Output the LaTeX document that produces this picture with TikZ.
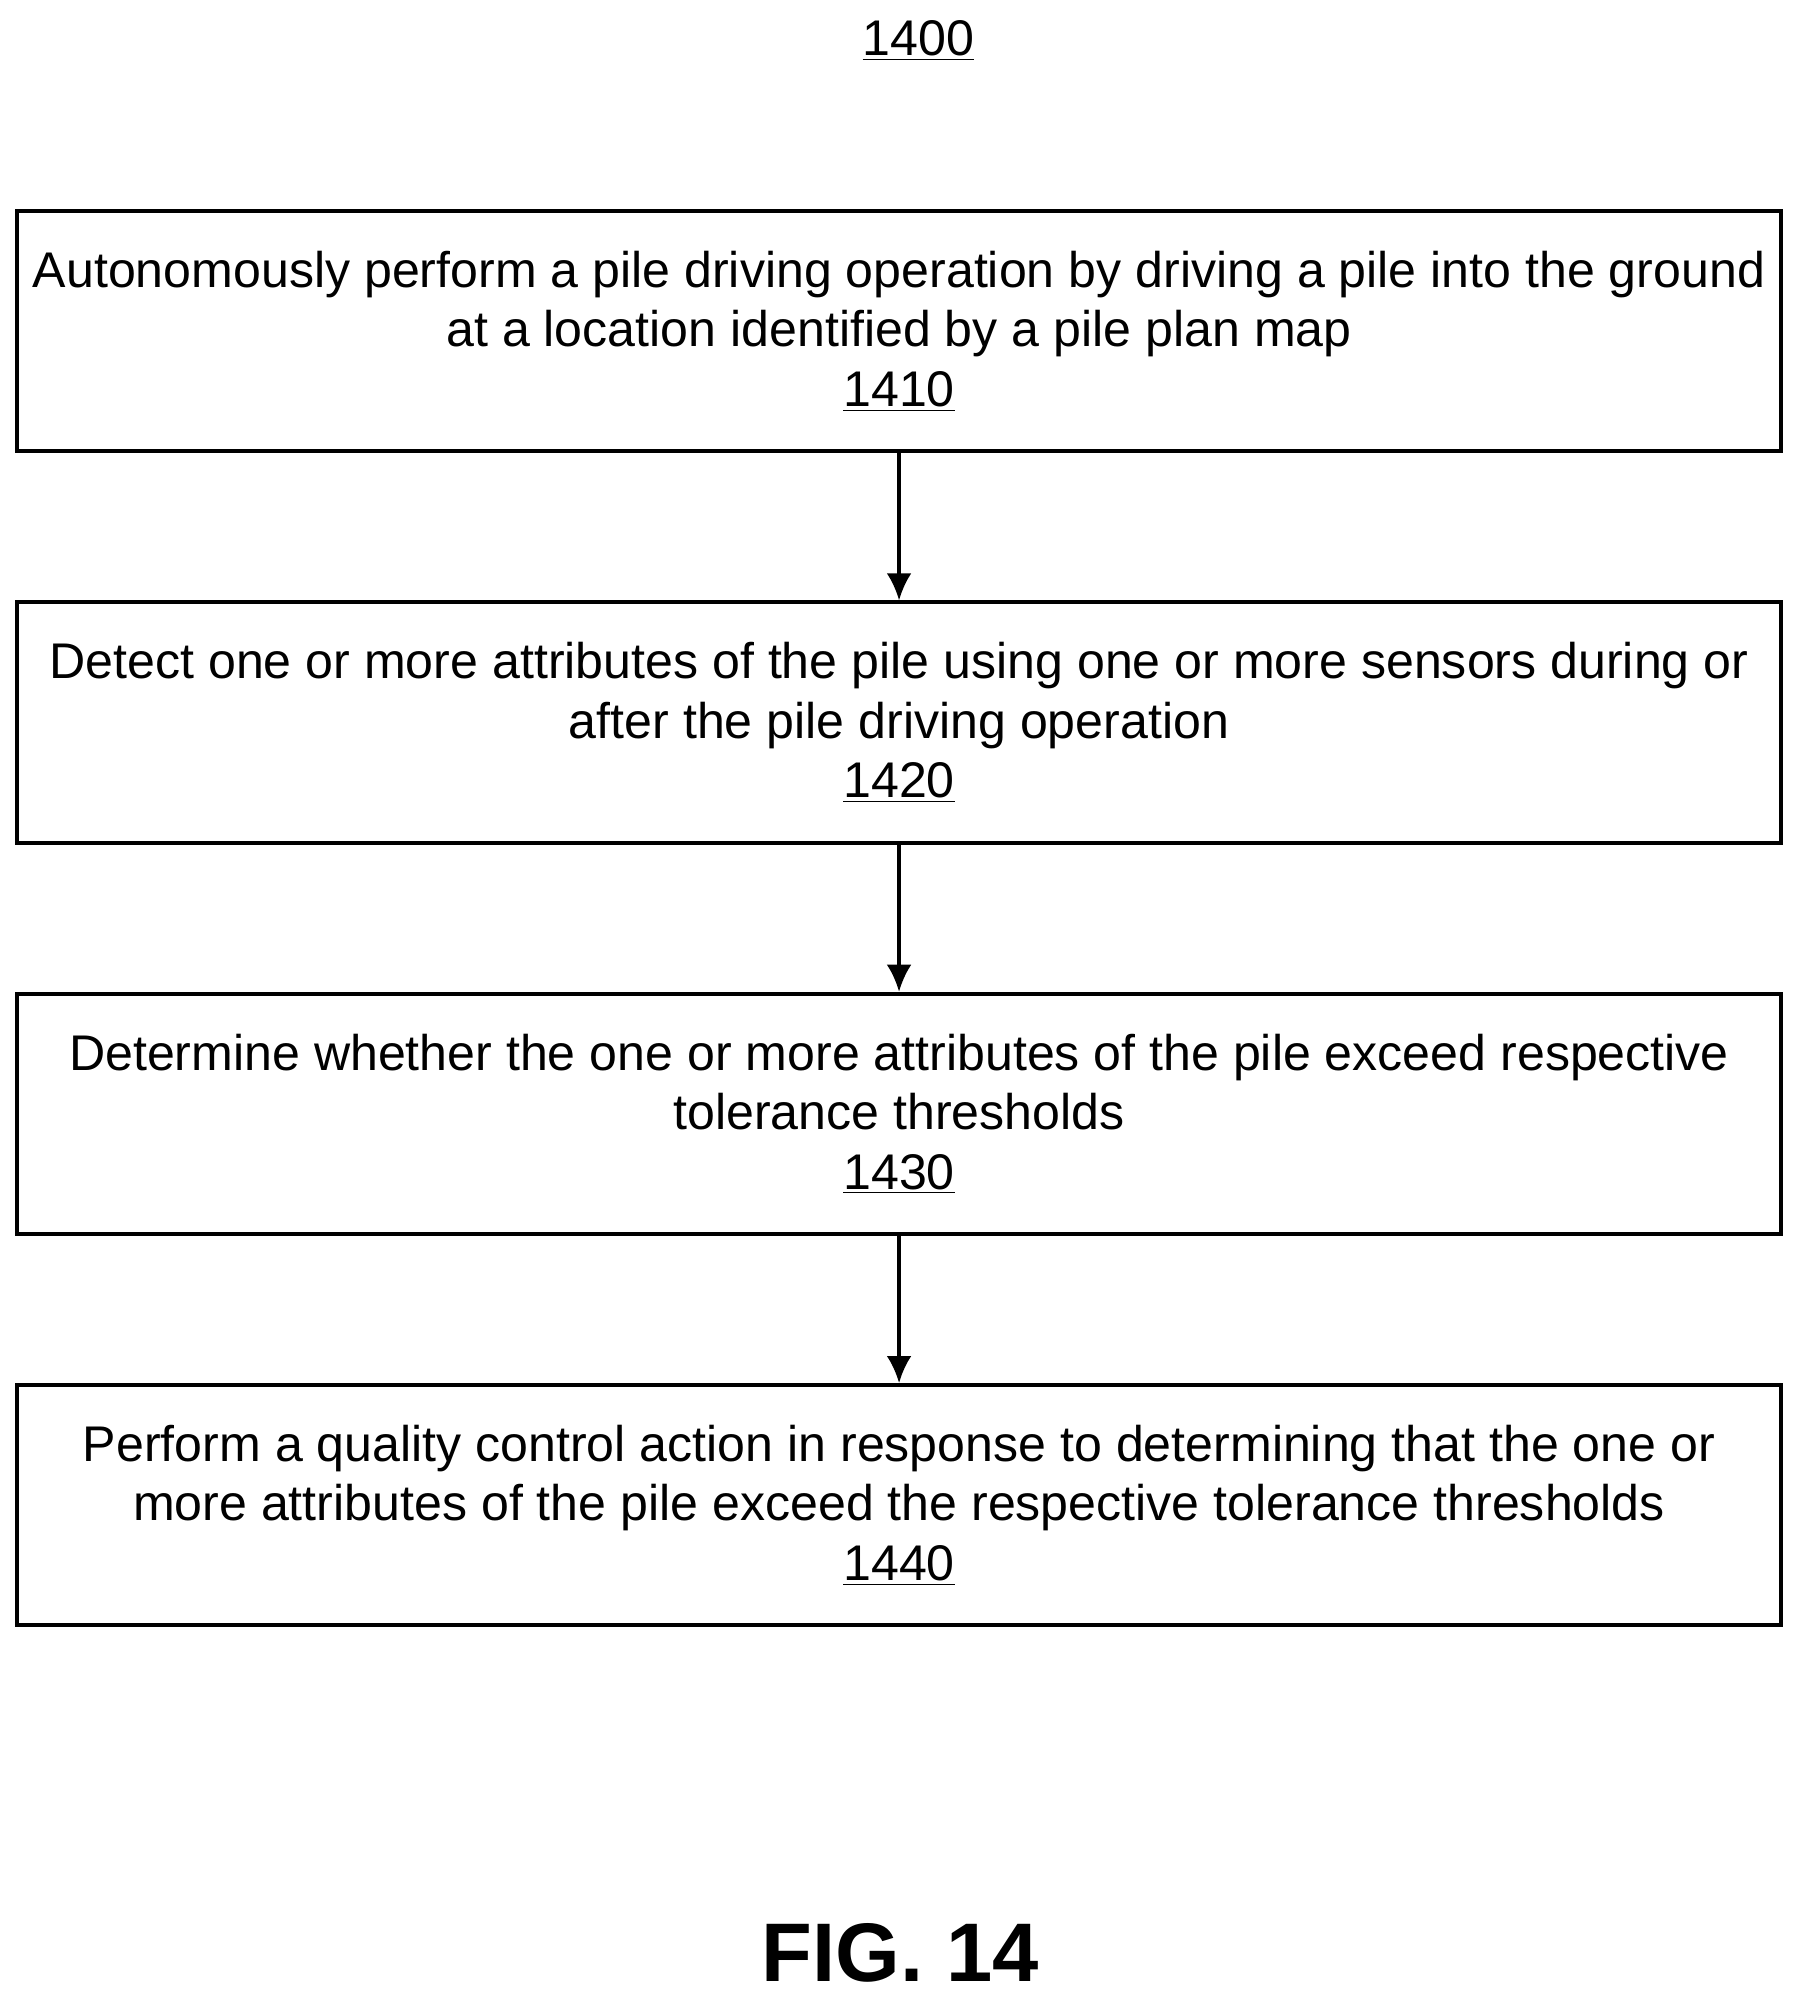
\documentclass[tikz,border=0pt]{standalone}
\usepackage{fontspec}
\setmainfont{Liberation Sans}
\usetikzlibrary{positioning,arrows.meta}
\tikzset{
  stepbox/.style={draw,line width=1.8pt,minimum width=27.6cm,minimum height=3.76cm,
    align=center,font=\fontsize{22.3}{26.5}\selectfont,inner sep=0pt},
  flow/.style={-{Latex[length=12pt,width=11pt]},line width=1.5pt}
}
\begin{document}
\begin{tikzpicture}[x=0.02cm,y=-0.02cm]
  \useasboundingbox (0,0) rectangle (1410,1567);
  \node (title) at (718,32) {\fontsize{22.3}{26.5}\selectfont\underline{1400}};
  \node[stepbox] (s1410) at (703,259) {Autonomously perform a pile driving operation by driving a pile into the ground\\at a location identified by a pile plan map\\\underline{1410}};
  \node[stepbox] (s1420) at (703,565) {Detect one or more attributes of the pile using one or more sensors during or\\after the pile driving operation\\\underline{1420}};
  \node[stepbox] (s1430) at (703,871) {Determine whether the one or more attributes of the pile exceed respective\\tolerance thresholds\\\underline{1430}};
  \node[stepbox] (s1440) at (703,1177) {Perform a quality control action in response to determining that the one or\\more attributes of the pile exceed the respective tolerance thresholds\\\underline{1440}};
  \draw[flow] (s1410) -- (s1420);
  \draw[flow] (s1420) -- (s1430);
  \draw[flow] (s1430) -- (s1440);
  \node (fig) at (704,1527) {\fontsize{37}{44}\selectfont\bfseries FIG. 14};
\end{tikzpicture}
\end{document}
